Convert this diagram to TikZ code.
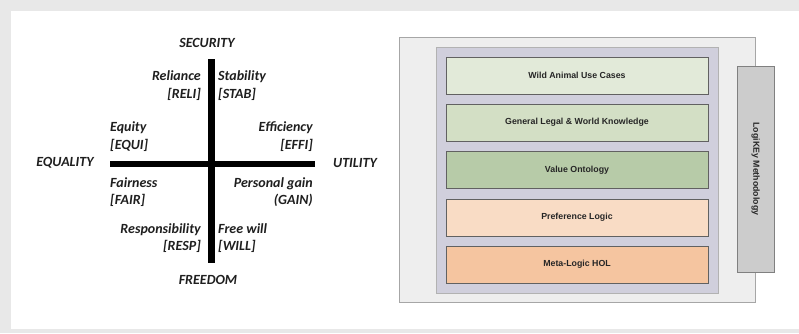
\documentclass[tikz,border=0pt]{standalone}
\usepackage{fontspec}
\setmainfont{Carlito}
\newfontfamily\boxfont{Liberation Sans}
\begin{document}
\begin{tikzpicture}[x=1pt,y=-1pt,
  axislabel/.style={inner sep=0pt, font=\fontsize{14}{17.5}\selectfont\bfseries\itshape, text=black!88},
  valuelabel/.style={inner sep=0pt, font=\fontsize{14}{17.5}\selectfont\bfseries\itshape, text=black!88},
  bar/.style={line width=6.5pt, black},
  layer/.style={draw=black!62, line width=0.6pt, minimum width=262pt, minimum height=37pt,
    inner sep=0pt, font=\fontsize{8.8}{10}\selectfont\boxfont\bfseries, text=black!85}]

% page background and white panel
\fill[black!9] (0,0) rectangle (799,333);
\fill[white] (11,11) rectangle (799,329);
\useasboundingbox (0,0) rectangle (799,333);

% ---------- value axes ----------
\draw[bar] (211.5,59) -- (211.5,263);
\draw[bar] (110,164) -- (315,164);

\node[axislabel] (sec) at (207,43) {SECURITY};
\node[axislabel] (fre) at (208,280) {FREEDOM};
\node[axislabel] (equ) at (65,163) {EQUALITY};
\node[axislabel] (uti) at (355,163) {UTILITY};

\node[valuelabel, anchor=east, align=right] (reli) at (201,85.5) {Reliance\\{[RELI]}};
\node[valuelabel, anchor=west, align=left] (stab) at (218,85.5) {Stability\\{[STAB]}};
\node[valuelabel, anchor=west, align=left] (equi) at (110,136.5) {Equity\\{[EQUI]}};
\node[valuelabel, anchor=east, align=right] (effi) at (313,136.5) {Efficiency\\{[EFFI]}};
\node[valuelabel, anchor=west, align=left] (fair) at (110,192) {Fairness\\{[FAIR]}};
\node[valuelabel, anchor=east, align=right] (gain) at (313,192) {Personal gain\\(GAIN)};
\node[valuelabel, anchor=east, align=right] (resp) at (201,238) {Responsibility\\{[RESP]}};
\node[valuelabel, anchor=west, align=left] (will) at (218,238) {Free will\\{[WILL]}};

% ---------- layered architecture ----------
\draw[draw=black!35, fill=black!6.5, line width=0.6pt] (399,37) rectangle (755,302);
\draw[draw=black!30, fill={rgb,255:red,208;green,207;blue,220}, line width=0.6pt] (436,47) rectangle (718,293);

\node[layer, fill={rgb,255:red,226;green,234;blue,217}] (l1) at (577,75.5) {Wild Animal Use Cases};
\node[layer, fill={rgb,255:red,211;green,223;blue,197}] (l2) at (577,122.5) {General Legal \& World Knowledge};
\node[layer, fill={rgb,255:red,183;green,203;blue,168}] (l3) at (577,170) {Value Ontology};
\node[layer, fill={rgb,255:red,249;green,220;blue,197}] (l4) at (577,217.5) {Preference Logic};
\node[layer, fill={rgb,255:red,245;green,197;blue,160}] (l5) at (577,264.5) {Meta-Logic HOL};

\node[draw=black!50, fill=black!20, line width=0.6pt, minimum width=37pt, minimum height=206pt,
  inner sep=0pt] (meth) at (755.5,169) {};
\node[rotate=-90, inner sep=0pt, font=\fontsize{8.8}{10}\selectfont\boxfont\bfseries, text=black!85]
  (methtext) at (meth.center) {LogiKEy Methodology};
\end{tikzpicture}
\end{document}
